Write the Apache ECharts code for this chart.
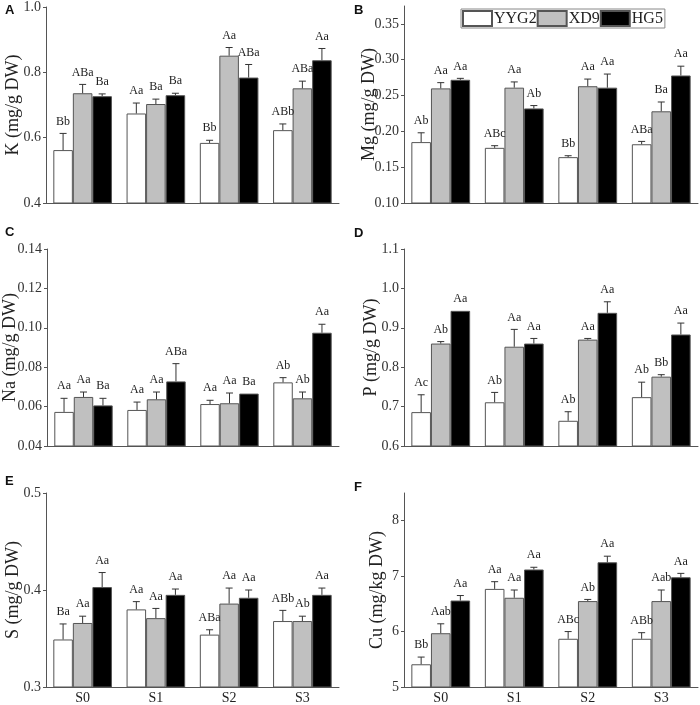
<!DOCTYPE html>
<html>
<head>
<meta charset="utf-8">
<script src="https://cdn.jsdelivr.net/npm/echarts@6/dist/echarts.min.js"></script>
<style>html,body{margin:0;padding:0;background:#fff}#c{width:700px;height:705px}</style>
</head>
<body>
<div id="c"></div>
<script>
const categories = ['S0', 'S1', 'S2', 'S3'];
const cultivars = ['YYG2', 'XD9', 'HG5'];

// Panel A: K (mg/g DW)
const K_YYG2 = [0.562, 0.674, 0.584, 0.623];
const K_XD9  = [0.736, 0.703, 0.851, 0.751];
const K_HG5  = [0.727, 0.730, 0.784, 0.837];
const K_sd_YYG2 = [0.051, 0.032, 0.008, 0.019];
const K_sd_XD9  = [0.027, 0.015, 0.025, 0.022];
const K_sd_HG5  = [0.007, 0.006, 0.040, 0.036];
const K_lab_YYG2 = ['Bb', 'Aa', 'Bb', 'ABb'];
const K_lab_XD9  = ['ABa', 'Ba', 'Aa', 'ABa'];
const K_lab_HG5  = ['Ba', 'Ba', 'ABa', 'Aa'];

// Panel B: Mg (mg/g DW)
const Mg_YYG2 = [0.185, 0.177, 0.164, 0.182];
const Mg_XD9  = [0.260, 0.261, 0.263, 0.228];
const Mg_HG5  = [0.272, 0.232, 0.261, 0.278];
const Mg_sd_YYG2 = [0.013, 0.003, 0.002, 0.004];
const Mg_sd_XD9  = [0.008, 0.008, 0.010, 0.013];
const Mg_sd_HG5  = [0.002, 0.004, 0.019, 0.013];
const Mg_lab_YYG2 = ['Ab', 'ABc', 'Bb', 'ABa'];
const Mg_lab_XD9  = ['Aa', 'Aa', 'Aa', 'Ba'];
const Mg_lab_HG5  = ['Aa', 'Ab', 'Aa', 'Aa'];

// Panel C: Na (mg/g DW)
const Na_YYG2 = [0.0573, 0.0583, 0.0613, 0.0723];
const Na_XD9  = [0.0649, 0.0637, 0.0617, 0.0642];
const Na_HG5  = [0.0606, 0.0728, 0.0666, 0.0975];
const Na_sd_YYG2 = [0.0069, 0.0040, 0.0019, 0.0024];
const Na_sd_XD9  = [0.0025, 0.0037, 0.0052, 0.0032];
const Na_sd_HG5  = [0.0036, 0.0090, 0.0000, 0.0043];
const Na_lab_YYG2 = ['Aa', 'Aa', 'Aa', 'Ab'];
const Na_lab_XD9  = ['Aa', 'Aa', 'Aa', 'Ab'];
const Na_lab_HG5  = ['Ba', 'ABa', 'Ba', 'Aa'];

// Panel D: P (mg/g DW)
const P_YYG2 = [0.686, 0.711, 0.664, 0.724];
const P_XD9  = [0.860, 0.852, 0.870, 0.776];
const P_HG5  = [0.943, 0.860, 0.938, 0.883];
const P_sd_YYG2 = [0.044, 0.025, 0.023, 0.038];
const P_sd_XD9  = [0.005, 0.044, 0.003, 0.005];
const P_sd_HG5  = [0.000, 0.013, 0.028, 0.029];
const P_lab_YYG2 = ['Ac', 'Ab', 'Ab', 'Ab'];
const P_lab_XD9  = ['Ab', 'Aa', 'Aa', 'Bb'];
const P_lab_HG5  = ['Aa', 'Aa', 'Aa', 'Aa'];

// Panel E: S (mg/g DW)
const S_YYG2 = [0.349, 0.380, 0.354, 0.368];
const S_XD9  = [0.366, 0.371, 0.386, 0.368];
const S_HG5  = [0.403, 0.395, 0.392, 0.395];
const S_sd_YYG2 = [0.016, 0.008, 0.005, 0.011];
const S_sd_XD9  = [0.007, 0.010, 0.016, 0.005];
const S_sd_HG5  = [0.015, 0.006, 0.008, 0.007];
const S_lab_YYG2 = ['Ba', 'Aa', 'ABa', 'ABb'];
const S_lab_XD9  = ['Aa', 'Aa', 'Aa', 'Ab'];
const S_lab_HG5  = ['Aa', 'Aa', 'Aa', 'Aa'];

// Panel F: Cu (mg/kg DW)
const Cu_YYG2 = [5.41, 6.77, 5.87, 5.87];
const Cu_XD9  = [5.97, 6.61, 6.55, 6.55];
const Cu_HG5  = [6.56, 7.12, 7.25, 6.98];
const Cu_sd_YYG2 = [0.13, 0.13, 0.13, 0.11];
const Cu_sd_XD9  = [0.17, 0.14, 0.03, 0.20];
const Cu_sd_HG5  = [0.09, 0.04, 0.11, 0.07];
const Cu_lab_YYG2 = ['Bb', 'Aa', 'ABc', 'ABb'];
const Cu_lab_XD9  = ['Aab', 'Aa', 'Ab', 'Aab'];
const Cu_lab_HG5  = ['Aa', 'Aa', 'Aa', 'Aa'];

const panelLetters = ['A', 'B', 'C', 'D', 'E', 'F'];
const axisNames = ['K (mg/g DW)', 'Mg (mg/g DW)', 'Na (mg/g DW)', 'P (mg/g DW)', 'S (mg/g DW)', 'Cu (mg/kg DW)'];

const panels = [
  {means: [K_YYG2, K_XD9, K_HG5], sds: [K_sd_YYG2, K_sd_XD9, K_sd_HG5], labs: [K_lab_YYG2, K_lab_XD9, K_lab_HG5],
   min: 0.4, max: 1.0, ticks: [0.4, 0.6, 0.8, 1.0], dec: 1},
  {means: [Mg_YYG2, Mg_XD9, Mg_HG5], sds: [Mg_sd_YYG2, Mg_sd_XD9, Mg_sd_HG5], labs: [Mg_lab_YYG2, Mg_lab_XD9, Mg_lab_HG5],
   min: 0.10, max: 0.375, ticks: [0.10, 0.15, 0.20, 0.25, 0.30, 0.35], dec: 2},
  {means: [Na_YYG2, Na_XD9, Na_HG5], sds: [Na_sd_YYG2, Na_sd_XD9, Na_sd_HG5], labs: [Na_lab_YYG2, Na_lab_XD9, Na_lab_HG5],
   min: 0.04, max: 0.14, ticks: [0.04, 0.06, 0.08, 0.10, 0.12, 0.14], dec: 2},
  {means: [P_YYG2, P_XD9, P_HG5], sds: [P_sd_YYG2, P_sd_XD9, P_sd_HG5], labs: [P_lab_YYG2, P_lab_XD9, P_lab_HG5],
   min: 0.6, max: 1.1, ticks: [0.6, 0.7, 0.8, 0.9, 1.0, 1.1], dec: 1},
  {means: [S_YYG2, S_XD9, S_HG5], sds: [S_sd_YYG2, S_sd_XD9, S_sd_HG5], labs: [S_lab_YYG2, S_lab_XD9, S_lab_HG5],
   min: 0.3, max: 0.5, ticks: [0.3, 0.4, 0.5], dec: 1},
  {means: [Cu_YYG2, Cu_XD9, Cu_HG5], sds: [Cu_sd_YYG2, Cu_sd_XD9, Cu_sd_HG5], labs: [Cu_lab_YYG2, Cu_lab_XD9, Cu_lab_HG5],
   min: 5, max: 8.5, ticks: [5, 6, 7, 8], dec: 0}
];

const SERIF = '"Liberation Serif", "Times New Roman", serif';
const fills = ['#ffffff', '#c0c0c0', '#000000'];
const CAT_GAP = 0.2;
const gridBoxes = [
  {left: 46, top: 6, width: 293, height: 197},
  {left: 404, top: 6, width: 294, height: 197},
  {left: 46, top: 249, width: 293, height: 197},
  {left: 404, top: 249, width: 294, height: 197},
  {left: 46, top: 493, width: 293, height: 197},
  {left: 404, top: 493, width: 294, height: 197}
];
const nameGaps = [24, 26, 28, 24, 24, 18];
const letterPos = [[5, 4], [354, 4], [5, 226], [354, 227], [5, 475], [354, 481]];

const grid = [], xAxis = [], yAxis = [], series = [], graphic = [];
panels.forEach((p, pi) => {
  grid.push(gridBoxes[pi]);
  const bottom = pi >= 4;
  xAxis.push({
    type: 'category', gridIndex: pi, data: categories,
    axisLine: {lineStyle: {color: '#555', width: 1}},
    axisTick: {show: false},
    axisLabel: {show: bottom, color: '#222', fontFamily: SERIF, fontSize: 14, margin: 4}
  });
  yAxis.push({
    type: 'value', gridIndex: pi, min: p.min, max: p.max,
    name: axisNames[pi], nameLocation: 'middle', nameGap: nameGaps[pi], nameMoveOverlap: false,
    nameTextStyle: {fontFamily: SERIF, fontSize: 18, color: '#222'},
    axisLine: {show: true, lineStyle: {color: '#555', width: 1}},
    axisTick: {show: true, length: 3, customValues: p.ticks, lineStyle: {color: '#555'}},
    axisLabel: {customValues: p.ticks, color: '#333', fontFamily: SERIF, fontSize: 14, margin: 5,
      formatter: v => Number(v).toFixed(p.dec)},
    splitLine: {show: false}
  });
  cultivars.forEach((name, si) => {
    series.push({
      type: 'bar', name: name, xAxisIndex: pi, yAxisIndex: pi,
      data: p.means[si], barGap: '0%', barCategoryGap: (CAT_GAP * 100) + '%',
      itemStyle: {color: fills[si], borderColor: '#555', borderWidth: 1},
      emphasis: {disabled: true}, animation: false
    });
  });
  cultivars.forEach((name, si) => {
    const data = p.means[si].map((m, i) => [i, m, m + p.sds[si][i], p.labs[si][i]]);
    series.push({
      type: 'custom', xAxisIndex: pi, yAxisIndex: pi, data: data, z: 10, animation: false,
      silent: true,
      renderItem: function (params, api) {
        const i = api.value(0);
        const mean = api.value(1);
        const top = api.value(2);
        const band = api.size([1, 0])[0];
        const bw = band * (1 - CAT_GAP) / 3;
        const c = api.coord([i, mean]);
        const t = api.coord([i, top]);
        const x = c[0] + (si - 1) * bw;
        const children = [];
        if (t[1] < c[1] - 0.5) {
          children.push({type: 'line', shape: {x1: x, y1: c[1], x2: x, y2: t[1]},
            style: {stroke: '#333', lineWidth: 1}});
          children.push({type: 'line', shape: {x1: x - 3.5, y1: t[1], x2: x + 3.5, y2: t[1]},
            style: {stroke: '#333', lineWidth: 1}});
        }
        children.push({type: 'text', x: x, y: t[1] - 6,
          style: {text: p.labs[si][i], fill: '#222', font: '12px ' + SERIF, align: 'center', verticalAlign: 'bottom'}});
        return {type: 'group', children: children};
      }
    });
  });
  graphic.push({type: 'text', left: letterPos[pi][0], top: letterPos[pi][1],
    style: {text: panelLetters[pi], font: 'bold 13px "Liberation Sans", Arial, sans-serif', fill: '#111'}});
});

const chart = echarts.init(document.getElementById('c'), null, {renderer: 'canvas'});
chart.setOption({
  animation: false,
  grid: grid, xAxis: xAxis, yAxis: yAxis, series: series, graphic: graphic,
  legend: {
    data: cultivars, left: 461, top: 9, orient: 'horizontal',
    itemWidth: 29, itemHeight: 15, itemGap: 0, icon: 'rect',
    padding: [1, 2, 1, 1], borderColor: '#888', borderWidth: 1,
    textStyle: {fontFamily: SERIF, fontSize: 16, color: '#222', padding: [0, 0, 0, -3]},
    selectedMode: false
  }
});
</script>
</body>
</html>
